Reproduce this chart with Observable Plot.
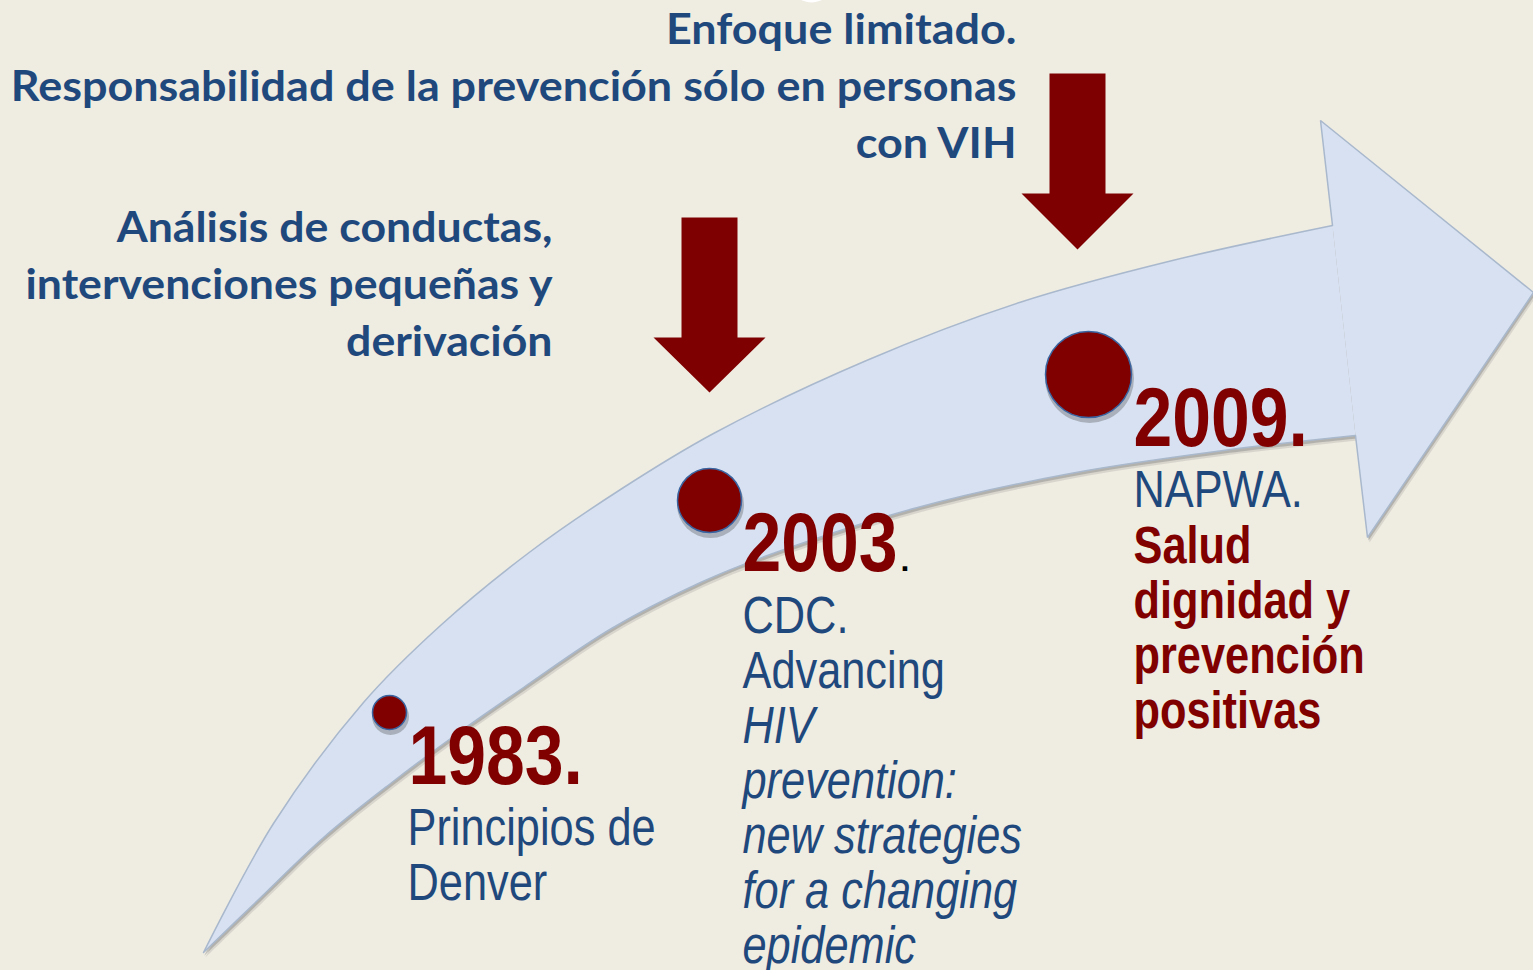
<!DOCTYPE html>
<html>
<head>
<meta charset="utf-8">
<script src="https://cdn.jsdelivr.net/npm/d3@7"></script>
<script src="https://cdn.jsdelivr.net/npm/@observablehq/plot@0.6"></script>
<style>
  html, body { margin: 0; padding: 0; background: #EFECE2; overflow: hidden; }
  #chart svg { display: block; }
</style>
</head>
<body>
<div id="chart"></div>
<script>
// ---------------- data ----------------
const milestoneYears = ["1983.", "2003", "2009."];
const milestoneDotX = [389, 709, 1088];
const milestoneDotY = [712, 500, 374];
const milestoneDotR = [17, 32, 43];
const yearLabelX = [408, 742, 1133];
const yearLabelBaseline = [783, 570, 445];

const denverLines = ["Principios de", "Denver"];
const cdcLines = ["CDC.", "Advancing"];
const cdcTitleLines = ["HIV", "prevention:", "new strategies", "for a changing", "epidemic"];
const napwaLines = ["NAPWA."];
const napwaTitleLines = ["Salud", "dignidad y", "prevención", "positivas"];

const topNoteLines = ["Enfoque limitado.", "Responsabilidad de la prevención sólo en personas", "con VIH"];
const leftNoteLines = ["Análisis de conductas,", "intervenciones pequeñas y", "derivación"];

// curved arrow outline (tail -> notch)
const upperEdgeX = [203, 273, 363, 440, 530, 620, 713, 866, 1019, 1172, 1332];
const upperEdgeY = [952, 823, 702, 625, 551, 489, 433, 360, 302, 260, 225];
const lowerEdgeX = [203, 257, 323, 390, 457, 523, 611, 700, 764, 917, 1070, 1223, 1355];
const lowerEdgeY = [952, 900, 837, 783, 733, 687, 628, 582, 556, 507, 473, 450, 435];
const headX = [1332, 1320, 1533, 1367, 1355];
const headY = [225, 120, 292, 537, 435];

// red down arrows
const downArrowX = [709, 1077];
const downArrowTop = [217, 73];
const downArrowHeadTop = [337, 193];
const downArrowTip = [392, 249];

// ---------------- build ----------------
const blue = "#1F497D";
const red = "#800000";
const arial = "'Liberation Sans', Arial, Helvetica, sans-serif";
const calibriLike = "Lato, 'Open Sans', sans-serif";

const upper = upperEdgeX.map((x, i) => ({x, y: upperEdgeY[i]}));
const lower = lowerEdgeX.map((x, i) => ({x, y: lowerEdgeY[i]}));
const band = [...upper.slice().reverse(), ...lower];
const head = headX.map((x, i) => ({x, y: headY[i]}));

const SH = 28, HH = 56;
const downArrows = downArrowX.flatMap((cx, k) => {
  const t = downArrowTop[k], h = downArrowHeadTop[k], tip = downArrowTip[k];
  return [[cx - SH, t], [cx + SH, t], [cx + SH, h], [cx + HH, h], [cx, tip], [cx - HH, h], [cx - SH, h]]
    .map(([x, y]) => ({k, x, y}));
});

const idx = milestoneYears.map((_, i) => i);

const svg = Plot.plot({
  width: 1533,
  height: 970,
  margin: 0,
  x: {domain: [0, 1533], range: [0, 1533], axis: null},
  y: {domain: [0, 970], range: [0, 970], axis: null},
  r: {type: "linear", domain: [0, 100], range: [0, 100]},
  style: {background: "#EFECE2", overflow: "hidden"},
  marks: [
    // faint white shape at top edge
    Plot.dot([0], {x: () => 811, y: () => -20, r: () => 22, fill: "#ffffff", stroke: null}),
    // arrow shadows
    Plot.line(band, {x: "x", y: "y", curve: "catmull-rom", fill: "#6f6f6f", fillOpacity: 0.18, stroke: null, dx: 2, dy: 5}),
    Plot.line(band, {x: "x", y: "y", curve: "catmull-rom", fill: "#6f6f6f", fillOpacity: 0.35, stroke: null, dx: 1, dy: 3}),
    Plot.line(head, {x: "x", y: "y", curve: "linear", fill: "#6f6f6f", fillOpacity: 0.18, stroke: null, dx: 2, dy: 5}),
    Plot.line(head, {x: "x", y: "y", curve: "linear", fill: "#6f6f6f", fillOpacity: 0.35, stroke: null, dx: 1, dy: 3}),
    // arrow body
    Plot.line(band, {x: "x", y: "y", curve: "catmull-rom", fill: "#D7E1F1", stroke: "#A9B8CC", strokeWidth: 1.5}),
    Plot.line(head, {x: "x", y: "y", curve: "linear", fill: "#D7E1F1", stroke: "#A9B8CC", strokeWidth: 1.5, strokeLinejoin: "miter"}),
    // red down arrows
    Plot.line(downArrows, {x: "x", y: "y", z: "k", curve: "linear", fill: "#7F0000", stroke: null}),
    // milestone dots
    Plot.dot(idx, {x: i => milestoneDotX[i], y: i => milestoneDotY[i], r: i => milestoneDotR[i] + 1.5, fill: "#333333", fillOpacity: 0.28, stroke: null, dx: 1, dy: 4}),
    Plot.dot(idx, {x: i => milestoneDotX[i], y: i => milestoneDotY[i], r: i => milestoneDotR[i], fill: red, stroke: "#3A64A0", strokeWidth: 1.5}),
    // year labels
    Plot.text(idx, {x: i => yearLabelX[i], y: i => yearLabelBaseline[i], text: i => milestoneYears[i],
      fontFamily: arial, fontSize: 84, fontWeight: "bold", fill: red, textAnchor: "start", lineAnchor: "bottom",
      ariaLabel: () => "sx:0.83"}),
    Plot.text(["."], {x: () => 900, y: () => 570, text: d => d, fontFamily: arial, fontSize: 32, fontWeight: "bold", fill: "#000000",
      textAnchor: "start", lineAnchor: "bottom"}),
    // 1983 body
    Plot.text([denverLines.join("\n")], {x: () => 407, y: () => 899, text: d => d,
      fontFamily: arial, fontSize: 51, lineHeight: 55 / 51, fill: blue, textAnchor: "start", lineAnchor: "bottom",
      ariaLabel: () => "sx:0.85"}),
    // 2003 body
    Plot.text([cdcLines.join("\n")], {x: () => 742, y: () => 687, text: d => d,
      fontFamily: arial, fontSize: 51, lineHeight: 55 / 51, fill: blue, textAnchor: "start", lineAnchor: "bottom",
      ariaLabel: () => "sx:0.85"}),
    Plot.text([cdcTitleLines.join("\n")], {x: () => 742, y: () => 962, text: d => d,
      fontFamily: arial, fontSize: 51, fontStyle: "italic", lineHeight: 55 / 51, fill: blue, textAnchor: "start", lineAnchor: "bottom",
      ariaLabel: () => "sx:0.85"}),
    // 2009 body
    Plot.text([napwaLines.join("\n")], {x: () => 1133, y: () => 506, text: d => d,
      fontFamily: arial, fontSize: 51, lineHeight: 55 / 51, fill: blue, textAnchor: "start", lineAnchor: "bottom",
      ariaLabel: () => "sx:0.85"}),
    Plot.text([napwaTitleLines.join("\n")], {x: () => 1133, y: () => 727, text: d => d,
      fontFamily: arial, fontSize: 51, fontWeight: "bold", lineHeight: 55 / 51, fill: red, textAnchor: "start", lineAnchor: "bottom",
      ariaLabel: () => "sx:0.85"}),
    // notes
    Plot.text([topNoteLines.join("\n")], {x: () => 1016, y: () => 157, text: d => d,
      fontFamily: calibriLike, fontSize: 42, fontWeight: "bold", lineHeight: 57 / 42, fill: blue, textAnchor: "end", lineAnchor: "bottom",
      ariaLabel: () => "fit:1006"}),
    Plot.text([leftNoteLines.join("\n")], {x: () => 552, y: () => 355, text: d => d,
      fontFamily: calibriLike, fontSize: 42, fontWeight: "bold", lineHeight: 57 / 42, fill: blue, textAnchor: "end", lineAnchor: "bottom",
      ariaLabel: () => "fit:528"})
  ]
});

document.getElementById("chart").appendChild(svg);

// condensed type emulation (Arial Narrow / Calibri look)
svg.querySelectorAll("text[aria-label]").forEach(el => {
  const lab = el.getAttribute("aria-label");
  let s = null;
  if (lab.startsWith("sx:")) s = +lab.slice(3);
  else if (lab.startsWith("fit:")) s = +lab.slice(4) / el.getBBox().width;
  if (s == null || !isFinite(s)) return;
  el.setAttribute("transform", (el.getAttribute("transform") || "") + ` scale(${s.toFixed(4)},1)`);
  el.removeAttribute("aria-label");
});
</script>
</body>
</html>
